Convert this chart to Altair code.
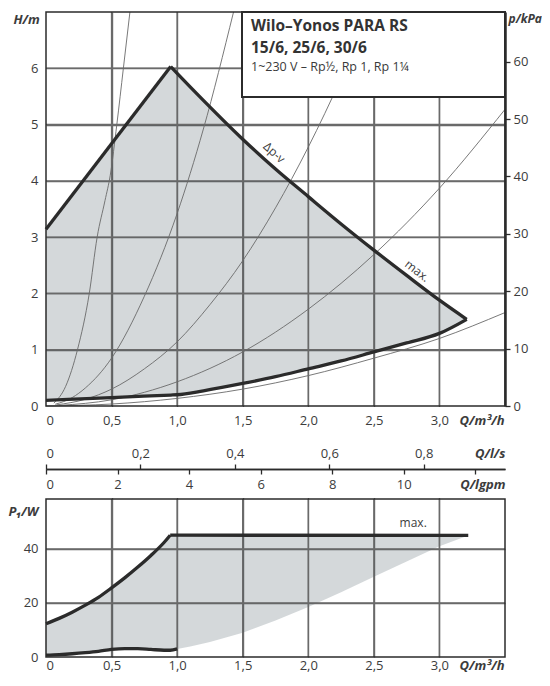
import altair as alt
import pandas as pd

FONT = "Open Sans"
TXT = "#3c3c3c"
LINE = "#2b2b2b"
SHADE = "#2a3b48"     # drawn at 20 % opacity -> light grey-blue fill
GRID = "#6a6a6a"
THIN = "#6a6a6a"
GRID_W = 1.4

W = 459          # plot width
H_TOP = 394      # H(Q) panel height
Y_MID = 457      # secondary flow axis line (from top of drawing area)
H_ALL = 645      # overall height of the drawing area
H_BOT = 158      # P1(Q) panel height
PAD = {"left": 38, "top": 4, "right": 37, "bottom": 16}

# unit conversions used to place the secondary axes on the m³/h / m scales
KPA_PER_M = 9.81
M3H_PER_LS = 3.6
M3H_PER_IGPM = 0.272765

# ---------------- tick / grid values ----------------
q_ticks = [0, 0.5, 1.0, 1.5, 2.0, 2.5, 3.0]
q_grid = [0.5, 1.0, 1.5, 2.0, 2.5, 3.0]
h_ticks = [0, 1, 2, 3, 4, 5, 6]
h_grid = [1, 2, 3, 4, 5, 6]
p_ticks = [0, 10, 20, 30, 40, 50, 60]
ls_ticks = [0, 0.2, 0.4, 0.6, 0.8]
gpm_ticks = [0, 2, 4, 6, 8, 10, 12]
w_ticks = [0, 20, 40]
w_grid = [20, 40]
Q_MAX = 3.5
H_MAX = 7.0
W_MAX = 58.5

# ---------------- H(Q) diagram ----------------
dpv_up_q = [0.0, 0.951]
dpv_up_h = [3.14, 6.03]
dpv_dn_q = [0.951, 1.0, 1.2, 1.5, 1.75, 2.0, 2.25, 2.5, 2.75, 3.0, 3.208]
dpv_dn_h = [6.03, 5.91, 5.43, 4.74, 4.21, 3.72, 3.235, 2.77, 2.32, 1.88, 1.54]
min_q = [0.0, 0.5, 0.951, 1.0, 1.2, 1.5, 1.75, 2.0, 2.25, 2.5, 2.75, 3.0, 3.208]
min_h = [0.10, 0.15, 0.195, 0.20, 0.27, 0.40, 0.52, 0.66, 0.80, 0.96, 1.12, 1.29, 1.54]
# operating field: upper edge read at the same flows as the lower edge
field_hi = [3.14, 4.66, 6.03, 5.91, 5.43, 4.74, 4.21, 3.72, 3.235, 2.77, 2.32, 1.88, 1.54]

sys1_q = [0.06, 0.15, 0.24, 0.33, 0.39, 0.45, 0.49, 0.54, 0.59, 0.64]
sys1_h = [0.05, 0.35, 1.0, 2.0, 3.0, 3.65, 4.1, 5.0, 6.0, 7.0]
sys2_q = [0.07, 0.2, 0.3, 0.5, 0.75, 1.0, 1.2, 1.43]
sys2_h = [0.03, 0.15, 0.32, 0.85, 1.95, 3.42, 4.92, 7.0]
sys3_q = [0.08, 0.3, 0.5, 0.75, 1.0, 1.25, 1.5, 1.75, 2.0, 2.25, 2.47]
sys3_h = [0.02, 0.12, 0.3, 0.66, 1.14, 1.8, 2.58, 3.52, 4.6, 5.82, 7.0]
sys4_q = [0.1, 0.5, 1.0, 1.5, 2.0, 2.5, 3.0, 3.5]
sys4_h = [0.01, 0.11, 0.43, 0.96, 1.72, 2.69, 3.87, 5.27]
sys5_q = [0.0, 0.5, 1.0, 1.5, 2.0, 2.5, 3.0, 3.5]
sys5_h = [0.0, 0.035, 0.135, 0.30, 0.54, 0.85, 1.20, 1.66]

dpv_lbl_q, dpv_lbl_h, dpv_lbl_t = [1.74], [4.50], ["Δp-v"]
max_lbl_q, max_lbl_h, max_lbl_t = [2.83], [2.40], ["max."]

box_lines = ["Wilo–Yonos PARA RS", "15/6, 25/6, 30/6", "1~230 V – Rp½, Rp 1, Rp 1¼"]

# ---------------- P1(Q) diagram ----------------
p1_q = [0.0, 0.1, 0.2, 0.3, 0.4, 0.5, 0.6, 0.7, 0.8, 0.9, 0.947, 1.0, 1.1, 1.25, 1.5,
        1.75, 2.0, 2.25, 2.5, 2.75, 3.0, 3.22]
p1_hi = [12.3, 14.3, 16.6, 19.2, 22.1, 25.6, 29.3, 33.3, 37.6, 42.4, 45.1, 45.1, 45.1, 45.1,
         45.1, 45.1, 45.1, 45.05, 45.05, 45.0, 45.0, 45.0]
p1_lo = [0.7, 0.9, 1.2, 1.6, 2.1, 2.8, 3.1, 3.1, 2.8, 2.5, 2.5, 3.0, 3.9, 5.6, 9.0, 13.5,
         18.5, 24.0, 29.7, 35.4, 41.0, 45.0]
p1_rise_n = 11      # first 11 points: rising max. curve
p1_wave_n = 12      # first 12 points: thick minimum curve (up to 1,0 m³/h)
p1_flat_q = [0.947, 3.22]
p1_flat_w = [45.1, 45.0]
p1_lbl_q, p1_lbl_w, p1_lbl_t = [2.80], [49.6], ["max."]

COMMA = "datum.value == 0 ? '0' : replace(format(datum.value, '.1f'), '.', ',')"


def df(**kw):
    return pd.DataFrame(kw)


# ---------------- scales / encodings ----------------
XS = alt.Scale(domain=[0, Q_MAX], nice=False, zero=False)
TOPY = alt.Scale(domain=[0, H_MAX], range=[H_TOP, 0], nice=False, zero=False)
PY = alt.Scale(domain=[0, H_MAX * KPA_PER_M], range=[H_TOP, 0], nice=False, zero=False)
BOTY = alt.Scale(domain=[0, W_MAX], range=[H_ALL, H_ALL - H_BOT], nice=False, zero=False)


def X(field="q", axis=None):
    return alt.X(field, type="quantitative", scale=XS, axis=axis)


def YT(field="h", axis=None):
    return alt.Y(field, type="quantitative", scale=TOPY, axis=axis)


def YB(field="w", axis=None):
    return alt.Y(field, type="quantitative", scale=BOTY, axis=axis)


grid_axis = dict(grid=True, gridColor=GRID, gridWidth=GRID_W, gridOpacity=1, labels=False,
                 ticks=False, domain=False, title="")
title_common = dict(titleAngle=0, titleBaseline="middle")

# ---------------- grid: axis grid lines (beneath the marks) ----------------
grid_q = alt.Chart(df(q=q_grid)).mark_point(opacity=0).encode(
    y=alt.value(0), x=X(axis=alt.Axis(orient="bottom", values=q_grid, **grid_axis)))
grid_h = alt.Chart(df(h=h_grid)).mark_point(opacity=0).encode(
    x=alt.value(0), y=YT(axis=alt.Axis(orient="left", values=h_grid, **grid_axis)))
grid_w = alt.Chart(df(w=w_grid)).mark_point(opacity=0).encode(
    x=alt.value(0), y=YB(axis=alt.Axis(orient="left", values=w_grid, **grid_axis)))

# ---------------- grid: the same lines as rule marks ----------------
rules_q_top = alt.Chart(df(q=q_grid, lo=0.0, hi=H_MAX)).mark_rule(color=GRID, strokeWidth=GRID_W).encode(
    x=X(), y=YT("lo"), y2=alt.Y2("hi"))
rules_h_top = alt.Chart(df(h=h_grid)).mark_rule(color=GRID, strokeWidth=GRID_W).encode(
    y=YT(), x=alt.value(0), x2=alt.value(W))
rules_q_bot = alt.Chart(df(q=q_grid, lo=0.0, hi=W_MAX)).mark_rule(color=GRID, strokeWidth=GRID_W).encode(
    x=X(), y=YB("lo"), y2=alt.Y2("hi"))
rules_w_bot = alt.Chart(df(w=w_grid)).mark_rule(color=GRID, strokeWidth=GRID_W).encode(
    y=YB(), x=alt.value(0), x2=alt.value(W))

# ---------------- H(Q) panel ----------------
sys_df = pd.concat([
    df(q=sys1_q, h=sys1_h, s="1"),
    df(q=sys2_q, h=sys2_h, s="2"),
    df(q=sys3_q, h=sys3_h, s="3"),
    df(q=sys4_q, h=sys4_h, s="4"),
    df(q=sys5_q, h=sys5_h, s="5"),
], ignore_index=True)

field_top = alt.Chart(df(q=min_q, h=field_hi, lo=min_h)).mark_area(
    color=SHADE, opacity=0.2).encode(x=X(), y=YT(), y2=alt.Y2("lo"))
sys_lines = alt.Chart(sys_df).mark_line(color=THIN, strokeWidth=0.9, interpolate="monotone").encode(
    x=X(), y=YT(), detail="s:N")
dpv_up_line = alt.Chart(df(q=dpv_up_q, h=dpv_up_h)).mark_line(
    color=LINE, strokeWidth=3.3).encode(x=X(), y=YT())
dpv_dn_line = alt.Chart(df(q=dpv_dn_q, h=dpv_dn_h)).mark_line(
    color=LINE, strokeWidth=3.3, interpolate="monotone").encode(x=X(), y=YT())
min_line = alt.Chart(df(q=min_q, h=min_h)).mark_line(
    color=LINE, strokeWidth=3.3, interpolate="monotone").encode(x=X(), y=YT())
dpv_lbl = alt.Chart(df(q=dpv_lbl_q, h=dpv_lbl_h, t=dpv_lbl_t)).mark_text(
    angle=42, fontSize=12, color=TXT, align="center", baseline="middle").encode(
    x=X(), y=YT(), text="t:N")
max_lbl = alt.Chart(df(q=max_lbl_q, h=max_lbl_h, t=max_lbl_t)).mark_text(
    angle=38, fontSize=12, color=TXT, align="center", baseline="middle").encode(
    x=X(), y=YT(), text="t:N")
frame_top = alt.Chart(df(t=["frame"])).mark_rect(fillOpacity=0, stroke=LINE, strokeWidth=1.5).encode(
    x=alt.value(0), x2=alt.value(W), y=alt.value(0), y2=alt.value(H_TOP))
box = alt.Chart(df(t=["box"])).mark_rect(fill="white", stroke=LINE, strokeWidth=2).encode(
    x=alt.value(196), x2=alt.value(W), y=alt.value(0), y2=alt.value(85))
box_t1 = alt.Chart(df(t=[box_lines[0]])).mark_text(align="left", baseline="middle", fontSize=15.5,
                                                     fontWeight="bold", color="#333333").encode(
    x=alt.value(205), y=alt.value(14), text="t:N")
box_t2 = alt.Chart(df(t=[box_lines[1]])).mark_text(align="left", baseline="middle", fontSize=15.5,
                                                     fontWeight="bold", color="#333333").encode(
    x=alt.value(205), y=alt.value(36), text="t:N")
box_t3 = alt.Chart(df(t=[box_lines[2]])).mark_text(align="left", baseline="middle", fontSize=12.5,
                                                     color="#3a3a3a").encode(
    x=alt.value(205), y=alt.value(55), text="t:N")

# white band between the two diagrams (hides the axis grid there)
band = alt.Chart(df(t=["band"])).mark_rect(fill="white", strokeOpacity=0).encode(
    x=alt.value(-1), x2=alt.value(W + 1), y=alt.value(H_TOP + 1), y2=alt.value(H_ALL - H_BOT - 1))

# axes of the H(Q) panel
h_axis_layer = alt.Chart(df(h=h_ticks)).mark_point(opacity=0).encode(
    x=alt.value(0),
    y=YT(axis=alt.Axis(orient="left", values=h_ticks, format="d", labelPadding=8,
                       title="H/m", titleX=-33, titleY=7, titleAlign="left", **title_common)))
p_axis_layer = alt.Chart(df(p=p_ticks)).mark_point(opacity=0).encode(
    x=alt.value(W),
    y=alt.Y("p:Q", scale=PY,
            axis=alt.Axis(orient="right", values=p_ticks, format="d", title="p/kPa",
                          titleX=3, titleY=6, titleAlign="left", titleFontSize=12, domain=True,
                          domainColor=LINE, domainWidth=2.5, ticks=True, tickColor=LINE,
                          tickSize=5, tickWidth=1.3, labelPadding=3, zindex=1, **title_common)))
qtop_axis_layer = alt.Chart(df(q=q_ticks)).mark_point(opacity=0).encode(
    y=alt.value(H_TOP),
    x=X(axis=alt.Axis(orient="bottom", offset=-(H_ALL - H_TOP), values=q_ticks, labelExpr=COMMA,
                      labelPadding=8, title="Q/m³/h", titleX=W - 1, titleY=8, zindex=1,
                      titleAlign="right", titleBaseline="top", titleAngle=0)))

# ---------------- secondary flow axes ----------------
ls_layer = alt.Chart(df(v=ls_ticks)).transform_calculate(
    q="datum.v * %s" % M3H_PER_LS).mark_point(opacity=0).encode(
    y=alt.value(Y_MID),
    x=X(axis=alt.Axis(orient="top", offset=-Y_MID, values=[v * M3H_PER_LS for v in ls_ticks],
                      labelExpr="datum.value == 0 ? '0' : replace(format(datum.value / %s, '.1f'), '.', ',')" % M3H_PER_LS,
                      title="Q/l/s", titleX=W, titleY=-9, titleAlign="right", zindex=1,
                      titleBaseline="bottom", titleAngle=0, domain=True, domainColor=LINE,
                      domainWidth=1.5, ticks=True, tickSize=5, tickColor=LINE,
                      tickWidth=1.3, labelPadding=4)))
gpm_layer = alt.Chart(df(v=gpm_ticks)).transform_calculate(
    q="datum.v * %s" % M3H_PER_IGPM).mark_point(opacity=0).encode(
    y=alt.value(Y_MID),
    x=X(axis=alt.Axis(orient="bottom", offset=-(H_ALL - Y_MID), values=[v * M3H_PER_IGPM for v in gpm_ticks],
                      labelExpr="round(datum.value / %s) == 12 ? '' : format(round(datum.value / %s), 'd')" % (M3H_PER_IGPM, M3H_PER_IGPM),
                      title="Q/lgpm", titleX=W, titleY=9, titleAlign="right", zindex=1,
                      titleBaseline="top", titleAngle=0, domain=True, domainColor=LINE,
                      domainWidth=1.5, ticks=True, tickSize=5, tickColor=LINE,
                      tickWidth=1.3, labelPadding=4)))

# ---------------- P1(Q) panel ----------------
field_bot = alt.Chart(df(q=p1_q, w=p1_hi, lo=p1_lo)).mark_area(
    color=SHADE, opacity=0.2).encode(x=X(), y=YB(), y2=alt.Y2("lo"))
rise_line = alt.Chart(df(q=p1_q[:p1_rise_n], w=p1_hi[:p1_rise_n])).mark_line(
    color=LINE, strokeWidth=3.3, interpolate="monotone").encode(x=X(), y=YB())
flat_line = alt.Chart(df(q=p1_flat_q, w=p1_flat_w)).mark_line(
    color=LINE, strokeWidth=3.3).encode(x=X(), y=YB())
low_line = alt.Chart(df(q=p1_q[:p1_wave_n], w=p1_lo[:p1_wave_n])).mark_line(
    color=LINE, strokeWidth=3.3, interpolate="monotone").encode(x=X(), y=YB())
p1_lbl = alt.Chart(df(q=p1_lbl_q, w=p1_lbl_w, t=p1_lbl_t)).mark_text(
    fontSize=12, color=TXT, align="center", baseline="middle").encode(x=X(), y=YB(), text="t:N")
frame_bot = alt.Chart(df(t=["frame"])).mark_rect(fillOpacity=0, stroke=LINE, strokeWidth=1.5).encode(
    x=alt.value(0), x2=alt.value(W), y=alt.value(H_ALL - H_BOT), y2=alt.value(H_ALL))

w_axis_layer = alt.Chart(df(w=w_ticks)).mark_point(opacity=0).encode(
    x=alt.value(0),
    y=YB(axis=alt.Axis(orient="left", values=w_ticks, format="d", labelPadding=8,
                       title="P₁/W", titleX=-38, titleY=H_ALL - H_BOT + 12.4,
                       titleAlign="left", **title_common)))
qbot_axis_layer = alt.Chart(df(q=q_ticks)).mark_point(opacity=0).encode(
    y=alt.value(H_ALL),
    x=X(axis=alt.Axis(orient="bottom", values=q_ticks, labelExpr=COMMA, labelPadding=2,
                      title="Q/m³/h", titleX=W - 1, titleY=2, titleAlign="right",
                      titleBaseline="top", titleAngle=0)))

chart = alt.layer(
    grid_q, grid_h, grid_w,
    field_top, field_bot, band,
    rules_q_top, rules_h_top, rules_q_bot, rules_w_bot,
    sys_lines, dpv_up_line, dpv_dn_line, min_line, dpv_lbl, max_lbl,
    rise_line, flat_line, low_line, p1_lbl,
    frame_top, frame_bot, box, box_t1, box_t2, box_t3,
    h_axis_layer, p_axis_layer, qtop_axis_layer, ls_layer, gpm_layer,
    w_axis_layer, qbot_axis_layer,
).resolve_scale(y="independent").resolve_axis(x="independent", y="independent").properties(
    width=W, height=H_ALL, padding=PAD, autosize=alt.AutoSizeParams(type="none")
).configure(font=FONT).configure_view(stroke="transparent").configure_axis(
    grid=False, domain=False, ticks=False, labelFont=FONT, labelFontSize=13,
    labelColor=TXT, titleFont=FONT, titleFontSize=13, titleColor=TXT,
    titleFontWeight="bold", titleFontStyle="italic")

chart.save("out.html", embed_options={"renderer": "svg", "actions": False})
